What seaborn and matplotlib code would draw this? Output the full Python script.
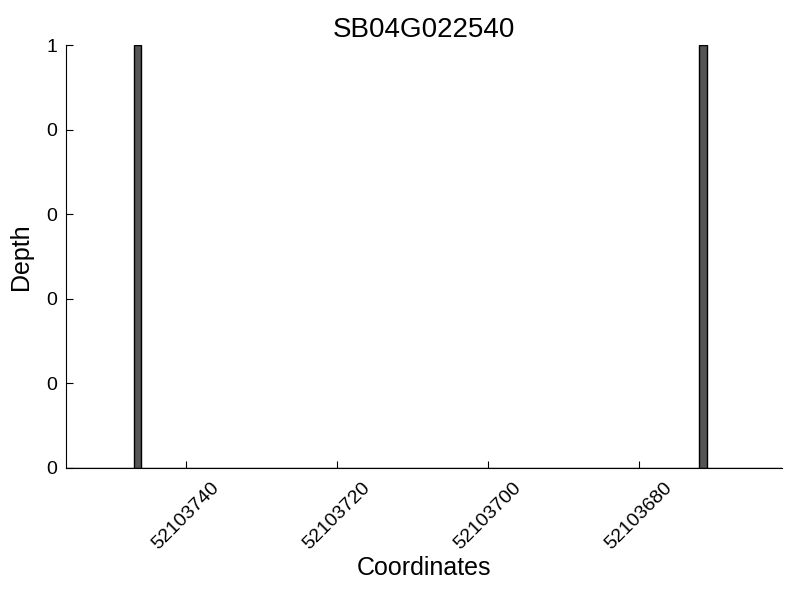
import matplotlib
matplotlib.use("Agg")
import matplotlib.pyplot as plt
import matplotlib.ticker as mticker
import seaborn as sns

# depth per coordinate (only non-zero positions)
gene = "SB04G022540"
coords = [52103746, 52103671]
depth = [1, 1]
xticks = [52103740, 52103720, 52103700, 52103680]
yticks = [0, 0.2, 0.4, 0.6, 0.8, 1.0]

sns.set_style("white", {"axes.edgecolor": "black", "text.color": "black",
                        "axes.labelcolor": "black", "xtick.color": "black",
                        "ytick.color": "black"})
plt.rcParams['font.family'] = ['Liberation Sans', 'DejaVu Sans']

fig, ax = plt.subplots(figsize=(8, 6), dpi=100)
sns.histplot(x=coords, weights=depth, binwidth=1, binrange=(52103661, 52103756),
             color="#555555", edgecolor="black", linewidth=1, alpha=1, ax=ax)

ax.set_xlim(52103756, 52103661)
ax.set_ylim(0, 1)
ax.set_xticks(xticks)
ax.set_xticklabels([str(t) for t in xticks], rotation=45, fontsize=14)
ax.set_yticks(yticks)
ax.yaxis.set_major_formatter(mticker.FormatStrFormatter('%d'))
ax.tick_params(axis='y', labelsize=14, direction='in', length=5, left=True, pad=6)
ax.tick_params(axis='x', direction='in', length=5, bottom=True, pad=8)
sns.despine(ax=ax)

ax.set_title(gene, fontsize=20)
ax.set_xlabel("Coordinates", fontsize=18, labelpad=2)
ax.set_ylabel("Depth", fontsize=18, labelpad=10)

plt.subplots_adjust(left=0.082, right=0.978, bottom=0.22, top=0.925)
plt.savefig("out.png")
